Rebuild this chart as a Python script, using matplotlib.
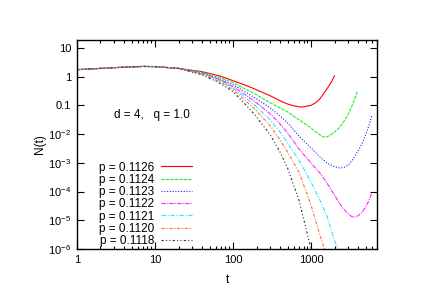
import numpy as np
import matplotlib
matplotlib.use('Agg')
import matplotlib.pyplot as plt
from matplotlib.ticker import FixedLocator, FixedFormatter, LogLocator, NullLocator

plt.rcParams['font.family'] = ['Liberation Sans', 'DejaVu Sans']
plt.rcParams['mathtext.fontset'] = 'custom'
plt.rcParams['mathtext.rm'] = 'Liberation Sans'
plt.rcParams['mathtext.it'] = 'Liberation Sans'

# ── Data (t, N(t)) ──
early_t = [1, 2, 4, 7, 10, 20]
early_n = [1.76, 1.95, 2.15, 2.28, 2.25, 1.95]

t_1126 = early_t + [40, 70, 100, 150, 200, 300, 400, 500, 600, 750, 1000, 1150, 1300, 1600, 1800, 2000]
n_1126 = early_n + [1.50, 1.04, 0.725, 0.485, 0.351, 0.217, 0.145, 0.112, 0.097, 0.087, 0.101, 0.125, 0.170,
                    0.380, 0.62, 1.08]

t_1124 = early_t + [40, 70, 100, 150, 200, 300, 400, 500, 700, 1000, 1150, 1300, 1430, 1600, 1800, 2000,
                    2250, 2500, 2750, 3000, 3250, 3500, 3700, 3900]
n_1124 = early_n + [1.44, 0.923, 0.617, 0.351, 0.235, 0.123, 0.0824, 0.0597, 0.0314, 0.0165, 0.0119, 0.00938,
                    0.0080, 0.0081, 0.0095, 0.0119, 0.0158, 0.0227, 0.0327, 0.0508, 0.079, 0.134, 0.192, 0.299]

t_1123 = early_t + [40, 70, 100, 150, 200, 300, 400, 500, 700, 1000, 1300, 1600, 1800, 2000, 2200, 2400, 2700,
                    3000, 3500, 4000, 4500, 5000, 5500, 6000]
n_1123 = early_n + [1.38, 0.818, 0.525, 0.276, 0.170, 0.0824, 0.0433, 0.0246, 0.00865, 0.00329, 0.00160,
                    0.000984, 0.000838, 0.000743, 0.000685, 0.000658, 0.000713, 0.000838, 0.00141, 0.00259,
                    0.00473, 0.00938, 0.0194, 0.0433]

t_1122 = early_t + [40, 70, 100, 150, 200, 300, 400, 500, 700, 1000, 1300, 1600, 2000, 2250, 2500, 2750, 3000,
                    3250, 3500, 3750, 4000, 4500, 5000, 5500, 6000]
n_1122 = early_n + [1.33, 0.755, 0.447, 0.217, 0.123, 0.0508, 0.0227, 0.0110, 0.00304, 0.000984, 0.000440,
                    0.000197, 7.48e-5, 4.43e-5, 2.85e-5, 2.15e-5, 1.69e-5, 1.4e-5, 1.27e-5, 1.32e-5, 1.44e-5,
                    1.9e-5, 2.85e-5, 4.8e-5, 8.8e-5]

t_1121 = early_t + [40, 70, 100, 150, 200, 300, 400, 500, 700, 1000, 1300, 1600, 2000, 2300]
n_1121 = early_n + [1.27, 0.697, 0.396, 0.170, 0.0893, 0.0314, 0.0119, 0.00492, 0.00125, 0.000213, 5.0e-5,
                    1.38e-5, 2.0e-6, 7.6e-7]

t_1120 = early_t + [40, 70, 100, 150, 200, 300, 400, 500, 700, 1000, 1300, 1600]
n_1120 = early_n + [1.22, 0.643, 0.351, 0.134, 0.0648, 0.0194, 0.00627, 0.00239, 0.000477, 3.34e-5, 3.0e-6, 5.5e-7]

t_1118 = early_t + [40, 70, 100, 150, 200, 300, 400, 500, 700, 1000, 1100]
n_1118 = early_n + [1.17, 0.569, 0.299, 0.0968, 0.0399, 0.00938, 0.00239, 0.000658, 5.0e-5, 1.0e-6, 4e-7]

labels = ['p = 0.1126', 'p = 0.1124', 'p = 0.1123', 'p = 0.1122', 'p = 0.1121', 'p = 0.1120', 'p = 0.1118']
series = [(t_1126, n_1126), (t_1124, n_1124), (t_1123, n_1123), (t_1122, n_1122),
          (t_1121, n_1121), (t_1120, n_1120), (t_1118, n_1118)]

colors = ['#ff0000', '#22ee22', '#2222ff', '#ff22ff', '#22eeee', '#ff7040', '#333333']
styles = ['-', (0, (3, 1)), (0, (1, 1.5)), (0, (4, 1, 1, 1)), (0, (4, 1.5, 1, 1.5)),
          (0, (3, 1.5, 1, 1.5)), (0, (2, 2, 1, 2, 1, 2))]

ytick_vals = [10, 1, 0.1, 1e-2, 1e-3, 1e-4, 1e-5, 1e-6]
ytick_labels = ['10', '1', '0.1', r'$10^{-2}$', r'$10^{-3}$', r'$10^{-4}$', r'$10^{-5}$', r'$10^{-6}$']
xtick_vals = [1, 10, 100, 1000]
xtick_labels = ['1', '10', '100', '1000']

fig = plt.figure(figsize=(4.36, 3.08), dpi=100)
fig.patch.set_facecolor('white')
ax = fig.add_axes([77 / 436, 1 - 249 / 308, 300 / 436, 209 / 308])

for (tv, nv), lab, c, ls in zip(series, labels, colors, styles):
    ax.plot(tv, nv, color=c, linestyle=ls, linewidth=0.8, label=lab)

ax.set_xscale('log')
ax.set_yscale('log')
ax.set_xlim(1, 7000)
ax.set_ylim(1e-6, 19)

ax.xaxis.set_major_locator(FixedLocator(xtick_vals))
ax.xaxis.set_major_formatter(FixedFormatter(xtick_labels))
ax.xaxis.set_minor_locator(LogLocator(base=10, subs=np.arange(2, 10)))
ax.yaxis.set_major_locator(FixedLocator(ytick_vals))
ax.yaxis.set_major_formatter(FixedFormatter(ytick_labels))
ax.yaxis.set_minor_locator(NullLocator())
ax.xaxis.set_minor_formatter(plt.NullFormatter())

ax.tick_params(which='both', direction='in', top=True, right=True, labelsize=8, width=0.8)
ax.tick_params(which='major', length=5, pad=4)
ax.tick_params(which='minor', length=2.5)
for spine in ax.spines.values():
    spine.set_linewidth(1.0)

ax.set_xlabel('t', fontsize=8.5, labelpad=7)
ax.set_ylabel('N(t)', fontsize=8.5, labelpad=2)

ax.text(114 / 436, 1 - 115 / 308, 'd = 4,   q = 1.0', transform=fig.transFigure,
        fontsize=8.5, va='center', ha='left')

ax.legend(loc='lower left', bbox_to_anchor=(0.045, -0.03), frameon=False, fontsize=8.5,
          markerfirst=False, handlelength=2.6, handletextpad=0.6, labelspacing=0.02,
          borderpad=0.2)

fig.savefig('out.png', dpi=100, facecolor='white')
